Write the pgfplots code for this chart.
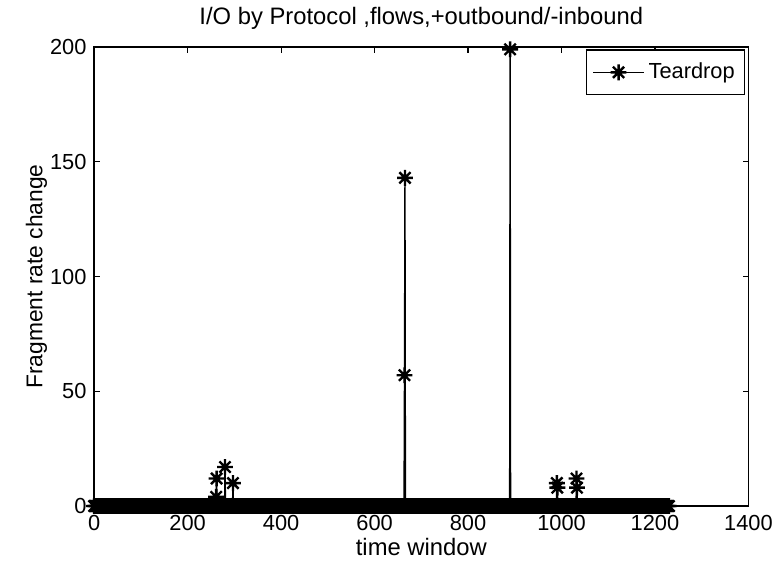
\documentclass[border=0pt]{standalone}
\usepackage{pgfplots}
\pgfplotsset{compat=1.18}
\usepackage{fontspec}
\setmainfont{Liberation Sans}
\pgfdeclareplotmark{mstar}{%
  \pgfpathmoveto{\pgfqpoint{-\pgfplotmarksize}{0pt}}\pgfpathlineto{\pgfqpoint{\pgfplotmarksize}{0pt}}%
  \pgfpathmoveto{\pgfqpoint{0pt}{-\pgfplotmarksize}}\pgfpathlineto{\pgfqpoint{0pt}{\pgfplotmarksize}}%
  \pgfpathmoveto{\pgfqpoint{-0.707\pgfplotmarksize}{-0.707\pgfplotmarksize}}\pgfpathlineto{\pgfqpoint{0.707\pgfplotmarksize}{0.707\pgfplotmarksize}}%
  \pgfpathmoveto{\pgfqpoint{-0.707\pgfplotmarksize}{0.707\pgfplotmarksize}}\pgfpathlineto{\pgfqpoint{0.707\pgfplotmarksize}{-0.707\pgfplotmarksize}}%
  \pgfusepathqstroke}
\begin{document}
\fontsize{11pt}{13pt}\selectfont
\begin{tikzpicture}
\begin{axis}[
  scale only axis,
  width=330pt, height=231.5pt,
  xmin=0, xmax=1400, ymin=0, ymax=200,
  xtick={0,200,...,1400}, ytick={0,50,...,200},
  tick align=inside,
  major tick length=3pt,
  axis line style={line width=0.7pt},
  every tick/.style={black,line width=0.6pt},
  clip=false,
  /pgf/number format/assume math mode=true,
  /pgf/number format/1000 sep={},
  tick label style={font=\fontsize{11pt}{13pt}\selectfont},
  xticklabel style={yshift=-1pt},
  title style={font=\fontsize{12pt}{14pt}\selectfont, yshift=-1pt},
  xlabel style={font=\fontsize{12pt}{14pt}\selectfont, yshift=4pt},
  ylabel style={font=\fontsize{11.5pt}{14pt}\selectfont, yshift=-6pt},
  title={I/O by Protocol ,flows,+outbound/-inbound},
  xlabel={time window},
  ylabel={Fragment rate change},
  legend style={at={(rel axis cs:0.995,0.995)}, anchor=north east, draw=black, line width=0.6pt, font=\fontsize{11pt}{13pt}\selectfont, inner xsep=3pt, inner ysep=4.5pt},
  legend cell align=left,
  legend image code/.code={\draw[#1, mark repeat=2, mark phase=2] plot coordinates {(0cm,0cm) (0.45cm,0cm) (0.9cm,0cm)};},
]
\addplot[black, line width=0.7pt, mark=mstar, mark size=4pt, mark options={line width=1.2pt}] coordinates {
(0,0)(2,0)(4,0)(6,0)(8,0)(10,0)(12,0)(14,0)(16,0)(18,0)(20,0)(22,0)(24,0)(26,0)(28,0)(30,0)(32,0)(34,0)(36,0)(38,0)
(40,0)(42,0)(44,0)(46,0)(48,0)(50,0)(52,0)(54,0)(56,0)(58,0)(60,0)(62,0)(64,0)(66,0)(68,0)(70,0)(72,0)(74,0)(76,0)(78,0)
(80,0)(82,0)(84,0)(86,0)(88,0)(90,0)(92,0)(94,0)(96,0)(98,0)(100,0)(102,0)(104,0)(106,0)(108,0)(110,0)(112,0)(114,0)(116,0)(118,0)
(120,0)(122,0)(124,0)(126,0)(128,0)(130,0)(132,0)(134,0)(136,0)(138,0)(140,0)(142,0)(144,0)(146,0)(148,0)(150,0)(152,0)(154,0)(156,0)(158,0)
(160,0)(162,0)(164,0)(166,0)(168,0)(170,0)(172,0)(174,0)(176,0)(178,0)(180,0)(182,0)(184,0)(186,0)(188,0)(190,0)(192,0)(194,0)(196,0)(198,0)
(200,0)(202,0)(204,0)(206,0)(208,0)(210,0)(212,0)(214,0)(216,0)(218,0)(220,0)(222,0)(224,0)(226,0)(228,0)(230,0)(232,0)(234,0)(236,0)(238,0)
(240,0)(242,0)(244,0)(246,0)(248,0)(250,0)(252,0)(254,0)(256,0)(258,0)(260,0)(261,4)(262,12)(263,0)(264,0)(266,0)(268,0)(270,0)(272,0)(274,0)(276,0)(278,0)
(279,0)(280,17)(281,0)(282,0)(284,0)(286,0)(288,0)(290,0)(292,0)(294,0)(296,0)(297,10)(298,0)(300,0)(302,0)(304,0)(306,0)(308,0)(310,0)(312,0)(314,0)(316,0)(318,0)
(320,0)(322,0)(324,0)(326,0)(328,0)(330,0)(332,0)(334,0)(336,0)(338,0)(340,0)(342,0)(344,0)(346,0)(348,0)(350,0)(352,0)(354,0)(356,0)(358,0)
(360,0)(362,0)(364,0)(366,0)(368,0)(370,0)(372,0)(374,0)(376,0)(378,0)(380,0)(382,0)(384,0)(386,0)(388,0)(390,0)(392,0)(394,0)(396,0)(398,0)
(400,0)(402,0)(404,0)(406,0)(408,0)(410,0)(412,0)(414,0)(416,0)(418,0)(420,0)(422,0)(424,0)(426,0)(428,0)(430,0)(432,0)(434,0)(436,0)(438,0)
(440,0)(442,0)(444,0)(446,0)(448,0)(450,0)(452,0)(454,0)(456,0)(458,0)(460,0)(462,0)(464,0)(466,0)(468,0)(470,0)(472,0)(474,0)(476,0)(478,0)
(480,0)(482,0)(484,0)(486,0)(488,0)(490,0)(492,0)(494,0)(496,0)(498,0)(500,0)(502,0)(504,0)(506,0)(508,0)(510,0)(512,0)(514,0)(516,0)(518,0)
(520,0)(522,0)(524,0)(526,0)(528,0)(530,0)(532,0)(534,0)(536,0)(538,0)(540,0)(542,0)(544,0)(546,0)(548,0)(550,0)(552,0)(554,0)(556,0)(558,0)
(560,0)(562,0)(564,0)(566,0)(568,0)(570,0)(572,0)(574,0)(576,0)(578,0)(580,0)(582,0)(584,0)(586,0)(588,0)(590,0)(592,0)(594,0)(596,0)(598,0)
(600,0)(602,0)(604,0)(606,0)(608,0)(610,0)(612,0)(614,0)(616,0)(618,0)(620,0)(622,0)(624,0)(626,0)(628,0)(630,0)(632,0)(634,0)(636,0)(638,0)
(640,0)(642,0)(644,0)(646,0)(648,0)(650,0)(652,0)(654,0)(656,0)(658,0)(660,0)(662,0)(663,0)(664,57)(665,143)(666,0)(668,0)(670,0)(672,0)(674,0)(676,0)(678,0)
(680,0)(682,0)(684,0)(686,0)(688,0)(690,0)(692,0)(694,0)(696,0)(698,0)(700,0)(702,0)(704,0)(706,0)(708,0)(710,0)(712,0)(714,0)(716,0)(718,0)
(720,0)(722,0)(724,0)(726,0)(728,0)(730,0)(732,0)(734,0)(736,0)(738,0)(740,0)(742,0)(744,0)(746,0)(748,0)(750,0)(752,0)(754,0)(756,0)(758,0)
(760,0)(762,0)(764,0)(766,0)(768,0)(770,0)(772,0)(774,0)(776,0)(778,0)(780,0)(782,0)(784,0)(786,0)(788,0)(790,0)(792,0)(794,0)(796,0)(798,0)
(800,0)(802,0)(804,0)(806,0)(808,0)(810,0)(812,0)(814,0)(816,0)(818,0)(820,0)(822,0)(824,0)(826,0)(828,0)(830,0)(832,0)(834,0)(836,0)(838,0)
(840,0)(842,0)(844,0)(846,0)(848,0)(850,0)(852,0)(854,0)(856,0)(858,0)(860,0)(862,0)(864,0)(866,0)(868,0)(870,0)(872,0)(874,0)(876,0)(878,0)
(880,0)(882,0)(884,0)(886,0)(888,0)(889,0)(890,199)(891,0)(892,0)(894,0)(896,0)(898,0)
(900,0)(902,0)(904,0)(906,0)(908,0)(910,0)(912,0)(914,0)(916,0)(918,0)(920,0)(922,0)(924,0)(926,0)(928,0)(930,0)(932,0)(934,0)(936,0)(938,0)
(940,0)(942,0)(944,0)(946,0)(948,0)(950,0)(952,0)(954,0)(956,0)(958,0)(960,0)(962,0)(964,0)(966,0)(968,0)(970,0)(972,0)(974,0)(976,0)(978,0)
(980,0)(982,0)(984,0)(986,0)(988,0)(989,0)(990,10)(991,8)(992,0)(994,0)(996,0)(998,0)
(1000,0)(1002,0)(1004,0)(1006,0)(1008,0)(1010,0)(1012,0)(1014,0)(1016,0)(1018,0)(1020,0)(1022,0)(1024,0)(1026,0)(1028,0)(1030,0)(1031,0)(1032,12)(1033,8)(1034,0)(1036,0)(1038,0)
(1040,0)(1042,0)(1044,0)(1046,0)(1048,0)(1050,0)(1052,0)(1054,0)(1056,0)(1058,0)(1060,0)(1062,0)(1064,0)(1066,0)(1068,0)(1070,0)(1072,0)(1074,0)(1076,0)(1078,0)
(1080,0)(1082,0)(1084,0)(1086,0)(1088,0)(1090,0)(1092,0)(1094,0)(1096,0)(1098,0)(1100,0)(1102,0)(1104,0)(1106,0)(1108,0)(1110,0)(1112,0)(1114,0)(1116,0)(1118,0)
(1120,0)(1122,0)(1124,0)(1126,0)(1128,0)(1130,0)(1132,0)(1134,0)(1136,0)(1138,0)(1140,0)(1142,0)(1144,0)(1146,0)(1148,0)(1150,0)(1152,0)(1154,0)(1156,0)(1158,0)
(1160,0)(1162,0)(1164,0)(1166,0)(1168,0)(1170,0)(1172,0)(1174,0)(1176,0)(1178,0)(1180,0)(1182,0)(1184,0)(1186,0)(1188,0)(1190,0)(1192,0)(1194,0)(1196,0)(1198,0)
(1200,0)(1202,0)(1204,0)(1206,0)(1208,0)(1210,0)(1212,0)(1214,0)(1216,0)(1218,0)(1220,0)(1222,0)(1224,0)(1226,0)(1228,0)(1230,0)
};
\addlegendentry{Teardrop}
\path (rel axis cs:-0.14394,-0.12311) rectangle (rel axis cs:1.03788,1.09719);
\end{axis}
\end{tikzpicture}
\end{document}
